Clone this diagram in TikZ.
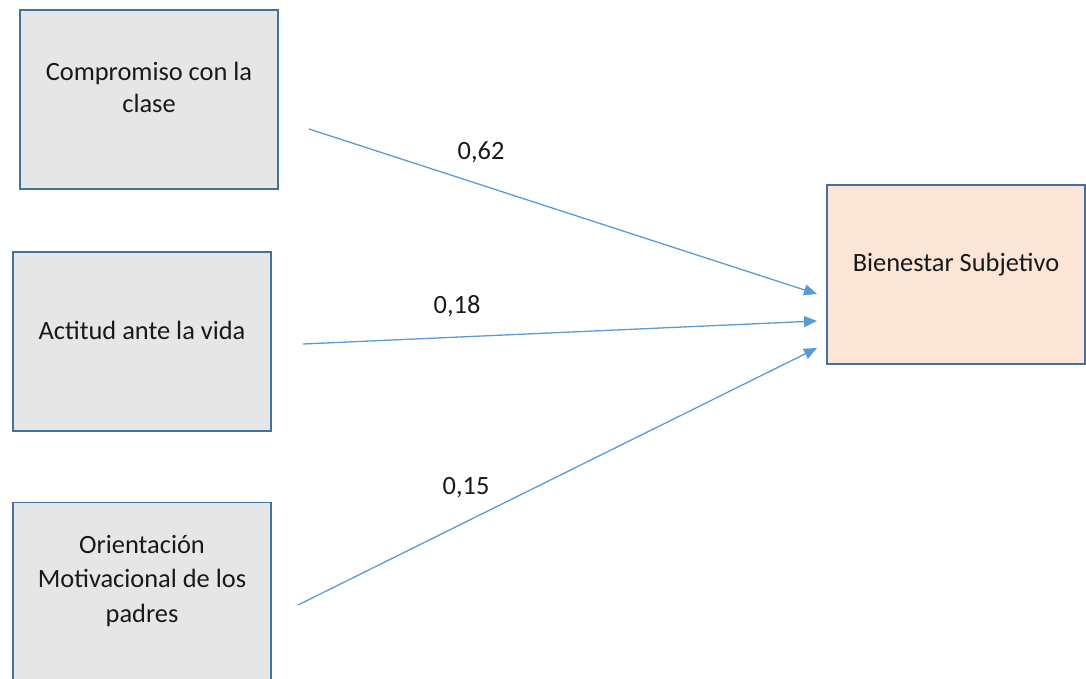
\documentclass[tikz,border=0pt]{standalone}
\usepackage{fontspec}
\setmainfont{Carlito}
\usetikzlibrary{arrows.meta,calc}
\definecolor{boxgray}{HTML}{E7E6E6}
\definecolor{boxpeach}{HTML}{FBE5D6}
\definecolor{boxline}{HTML}{41719C}
\definecolor{arrowblue}{HTML}{5B9BD5}
\tikzset{
  box/.style={draw=boxline, line width=1.4pt, minimum width=258pt, minimum height=179pt, inner sep=0pt},
  graybox/.style={box, fill=boxgray},
  peachbox/.style={box, fill=boxpeach},
  txt/.style={align=center, inner sep=0pt, font=\fontsize{26.4}{32}\selectfont, text=black!90},
  coef/.style={inner sep=0pt, font=\fontsize{26.4}{32}\selectfont, text=black!90},
  conn/.style={draw=arrowblue, line width=1.3pt, -{Triangle[length=13pt,width=11pt]}}
}
\begin{document}
\begin{tikzpicture}[x=1pt,y=-1pt]
\useasboundingbox (0,0) rectangle (1086,679);
\clip (0,0) rectangle (1086,679);
% boxes
\node[graybox] (c) at (149,99.5) {};
\node[graybox] (a) at (142,341.5) {};
\node[graybox] (o) at (142,592) {};
\node[peachbox] (b) at (956,274.5) {};
% texts
\node[txt] (ct) at ($(c.center)+(0,-12)$) {Compromiso con la\\clase};
\node[txt] (at) at ($(a.center)+(0,-11)$) {Actitud ante la vida};
\node[txt, font=\fontsize{26.4}{34.5}\selectfont] (ot) at ($(o.center)+(0,-11)$) {Orientación\\Motivacional de los\\padres};
\node[txt] (bt) at ($(b.center)+(0,-10)$) {Bienestar Subjetivo};
% connector ends
\coordinate (s1) at (309,129);
\coordinate (s2) at (303,344);
\coordinate (s3) at (298,605);
\coordinate (e1) at (817,294);
\coordinate (e2) at (817,321);
\coordinate (e3) at (817,348);
\draw[conn] (s1) -- (e1);
\draw[conn] (s2) -- (e2);
\draw[conn] (s3) -- (e3);
% coefficients
\node[coef] (k1) at (481,152) {0,62};
\node[coef] (k2) at (457,306) {0,18};
\node[coef] (k3) at (466,488) {0,15};
\end{tikzpicture}
\end{document}
